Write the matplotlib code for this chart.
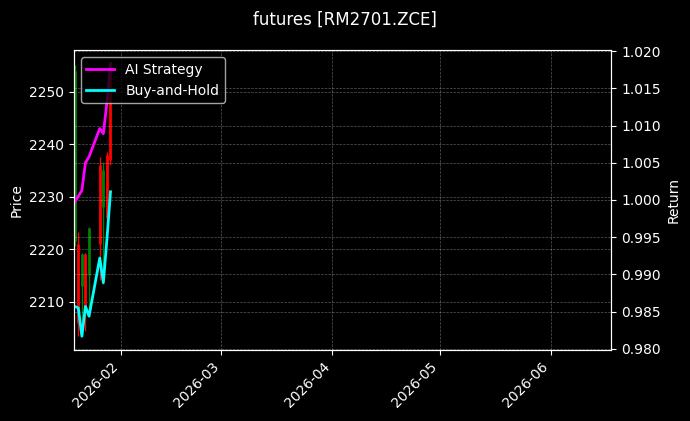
import pandas as pd
import numpy as np
import matplotlib
matplotlib.use("Agg")
import matplotlib.pyplot as plt
import matplotlib.dates as mdates

plt.style.use("dark_background")

# daily bars (red = up, green = down)
dates = pd.to_datetime(["2026-01-19", "2026-01-20", "2026-01-21", "2026-01-22", "2026-01-23",
                        "2026-01-26", "2026-01-27", "2026-01-28", "2026-01-29"])
opens = [2254.0, 2206.0, 2219.0, 2208.0, 2224.0, 2221.0, 2235.0, 2226.0, 2237.0]
highs = [2255.0, 2223.3, 2219.3, 2219.3, 2224.2, 2237.5, 2236.5, 2238.4, 2255.3]
lows = [2220.5, 2203.4, 2204.2, 2204.4, 2207.0, 2214.2, 2213.3, 2225.0, 2236.0]
closes = [2221.5, 2221.0, 2213.0, 2219.0, 2215.0, 2236.0, 2228.0, 2238.0, 2255.0]

ai_strategy = [0.9997, 1.0005, 1.0013, 1.0050, 1.0058, 1.0096, 1.0089, 1.0131, 1.0183]
buy_hold = [0.9857, 0.9855, 0.9817, 0.9857, 0.9844, 0.9922, 0.9889, 0.9947, 1.0011]

x_start = pd.Timestamp("2026-01-18 18:00")
x_end = pd.Timestamp("2026-06-18")

fig = plt.figure(figsize=(6.9, 4.21), dpi=100)
ax = fig.add_axes([0.107, 0.169, 0.779, 0.712])
ax2 = ax.twinx()

colors = ["red" if c >= o else "green" for o, c in zip(opens, closes)]
ax.vlines(dates, lows, highs, colors=colors, linewidth=1)
ax.vlines(dates, opens, closes, colors=colors, linewidth=2)
ax.set_ylabel("Price")
ax.grid(True, linestyle="--", linewidth=0.5, alpha=0.35)

ax2.plot(dates, ai_strategy, color="magenta", linewidth=2, label="AI Strategy")
ax2.plot(dates, buy_hold, color="cyan", linewidth=2, label="Buy-and-Hold")
ax2.set_ylabel("Return")
ax2.yaxis.set_major_formatter(plt.FormatStrFormatter("%.3f"))
ax2.grid(True, linestyle="--", linewidth=0.5, alpha=0.35)
ax2.legend(loc="upper left")

ax.set_xlim(x_start, x_end)
ax.xaxis.set_major_locator(mdates.MonthLocator())
ax.xaxis.set_major_formatter(mdates.DateFormatter("%Y-%m"))
plt.setp(ax.get_xticklabels(), rotation=45, ha="right")

fig.suptitle("futures [RM2701.ZCE]", y=0.975)

fig.savefig("out.png", dpi=100)
